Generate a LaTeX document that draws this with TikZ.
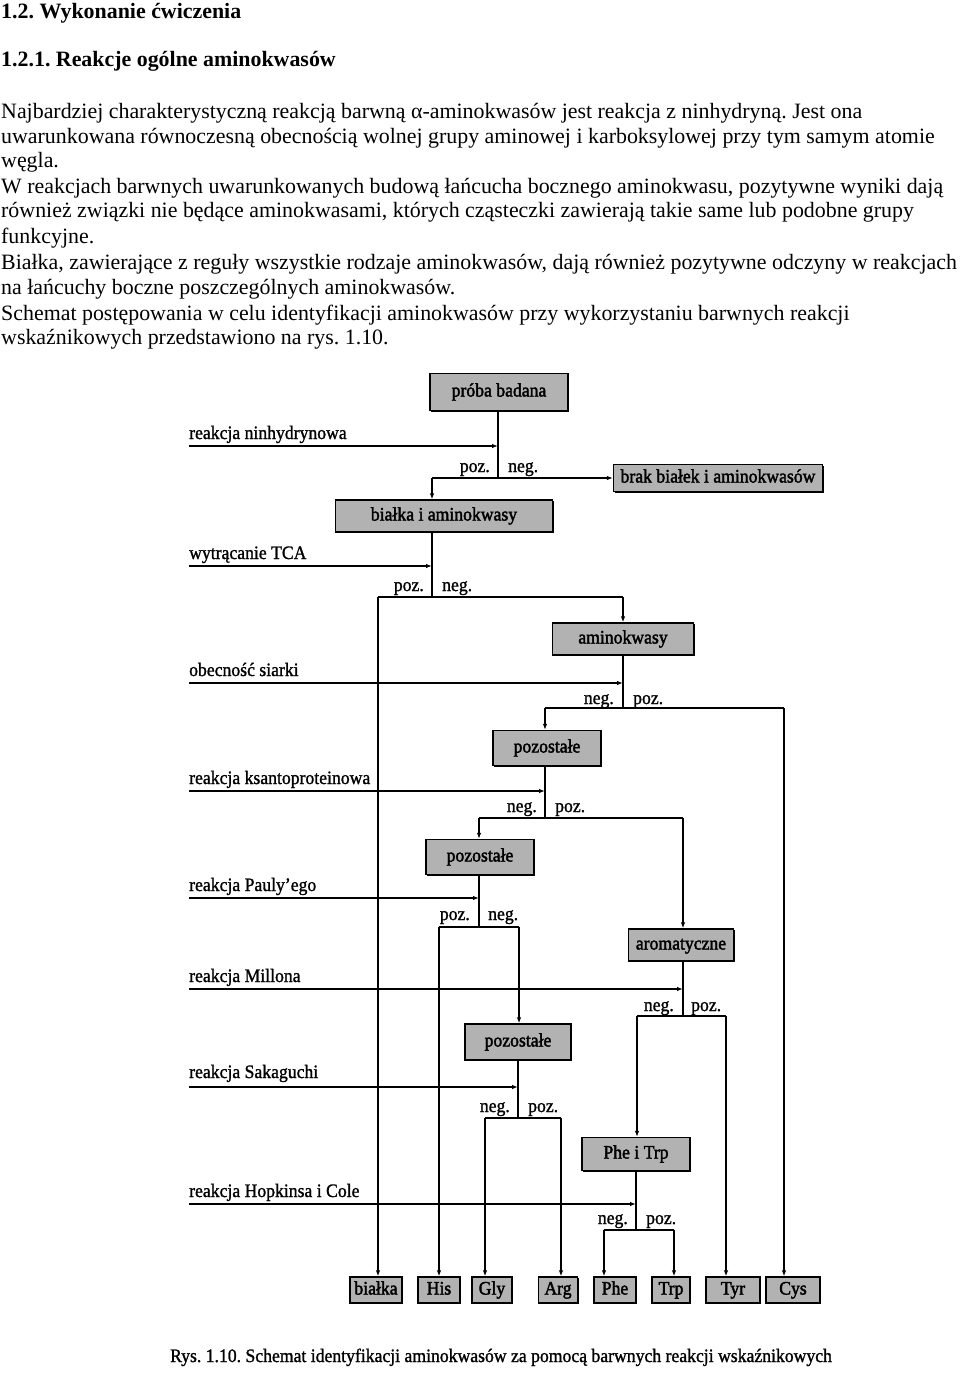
\documentclass[tikz,border=0pt]{standalone}
\usepackage{fontspec}
\setmainfont{Liberation Serif}
\newfontfamily\diafont[FakeStretch=0.93,FakeBold=1.2]{Liberation Serif}
\newfontfamily\boxfont[FakeStretch=0.93,FakeBold=2]{Liberation Serif}
\usetikzlibrary{arrows.meta,shadows}
\frenchspacing
\begin{document}
\begin{tikzpicture}[x=1pt,y=-1pt,
  gbox/.style={draw, line width=1.3pt, fill=black!30, inner sep=0pt,
    text height=13pt, text depth=4pt,
    drop shadow={shadow xshift=1.4pt, shadow yshift=-1.4pt, fill=black, opacity=1},
    font=\boxfont\fontsize{19}{22}\selectfont},
  lbl/.style={inner sep=0pt, font=\diafont\fontsize{19}{22}\selectfont},
  ln/.style={line width=1.3pt},
  arr/.style={line width=1.3pt, -{Latex[length=6pt,width=4.5pt]}},
  body/.style={anchor=base west, inner sep=0pt, font=\fontsize{21.9}{25}\selectfont},
  head/.style={anchor=base west, inner sep=0pt, font=\bfseries\fontsize{21.9}{25}\selectfont}
]
\useasboundingbox (0,0) rectangle (960,1384);
% header text
\node[head] (h1) at (1,18) {1.2. Wykonanie ćwiczenia};
\node[head] (h2) at (1,66) {1.2.1. Reakcje ogólne aminokwasów};
\node[body] (b1) at (1,118) {Najbardziej charakterystyczną reakcją barwną α-aminokwasów jest reakcja z ninhydryną. Jest ona};
\node[body] (b2) at (1,143) {uwarunkowana równoczesną obecnością wolnej grupy aminowej i karboksylowej przy tym samym atomie};
\node[body] (b3) at (1,167) {węgla.};
\node[body] (b4) at (1,193) {W reakcjach barwnych uwarunkowanych budową łańcucha bocznego aminokwasu, pozytywne wyniki dają};
\node[body] (b5) at (1,217) {również związki nie będące aminokwasami, których cząsteczki zawierają takie same lub podobne grupy};
\node[body] (b6) at (1,243) {funkcyjne.};
\node[body] (b7) at (1,269) {Białka, zawierające z reguły wszystkie rodzaje aminokwasów, dają również pozytywne odczyny w reakcjach};
\node[body] (b8) at (1,294) {na łańcuchy boczne poszczególnych aminokwasów.};
\node[body] (b9) at (1,320) {Schemat postępowania w celu identyfikacji aminokwasów przy wykorzystaniu barwnych reakcji};
\node[body] (b10) at (1,344) {wskaźnikowych przedstawiono na rys. 1.10.};

% boxes
\node[gbox, minimum width=138pt, minimum height=37pt] (proba) at (499,392) {próba badana};
\node[gbox, minimum width=209pt, minimum height=27pt] (brak) at (718,478) {brak białek i aminokwasów};
\node[gbox, minimum width=217pt, minimum height=32pt] (bialkai) at (444,516) {białka i aminokwasy};
\node[gbox, minimum width=141pt, minimum height=32pt] (amino) at (623,639) {aminokwasy};
\node[gbox, minimum width=108pt, minimum height=35pt] (poz1) at (547,748) {pozostałe};
\node[gbox, minimum width=108pt, minimum height=35pt] (poz2) at (480,857) {pozostałe};
\node[gbox, minimum width=105pt, minimum height=32pt] (arom) at (681,945) {aromatyczne};
\node[gbox, minimum width=106pt, minimum height=36pt] (poz3) at (518,1042) {pozostałe};
\node[gbox, minimum width=108pt, minimum height=33pt] (phetrp) at (636,1154) {Phe i Trp};
\node[gbox, minimum width=52pt, minimum height=26pt] (bia) at (376,1290) {białka};
\node[gbox, minimum width=42pt, minimum height=26pt] (his) at (439,1290) {His};
\node[gbox, minimum width=40pt, minimum height=26pt] (gly) at (492,1290) {Gly};
\node[gbox, minimum width=39pt, minimum height=26pt] (arg) at (558,1290) {Arg};
\node[gbox, minimum width=42pt, minimum height=26pt] (phe) at (615,1290) {Phe};
\node[gbox, minimum width=38pt, minimum height=26pt] (trp) at (671,1290) {Trp};
\node[gbox, minimum width=54pt, minimum height=26pt] (tyr) at (733,1290) {Tyr};
\node[gbox, minimum width=54pt, minimum height=26pt] (cys) at (793,1290) {Cys};

% decision 1: ninhydryn
\coordinate (j1) at (498,478);
\coordinate (l1) at (432,478);
\coordinate (r1) at (189,446);
\node[lbl, anchor=base west] (t1) at (189,439) {reakcja ninhydrynowa};
\node[lbl, anchor=base east] (p1) at (490,472) {poz.};
\node[lbl, anchor=base west] (n1) at (508,472) {neg.};
\draw[ln] (j1 |- proba.south) -- (j1);
\draw[arr] (r1) -- (r1 -| j1);
\draw[ln] (l1) -- (j1);
\draw[arr] (j1) -- (brak.west);
\draw[arr] (l1) -- (l1 |- bialkai.north);

% decision 2: TCA
\coordinate (j2) at (432,597);
\coordinate (l2) at (378,597);
\coordinate (m2) at (623,597);
\coordinate (r2) at (189,566);
\node[lbl, anchor=base west] (t2) at (189,559) {wytrącanie TCA};
\node[lbl, anchor=base east] (p2) at (424,591) {poz.};
\node[lbl, anchor=base west] (n2) at (442,591) {neg.};
\draw[ln] (j2 |- bialkai.south) -- (j2);
\draw[arr] (r2) -- (r2 -| j2);
\draw[ln] (l2) -- (m2);
\draw[arr] (l2) -- (l2 |- bia.north);
\draw[arr] (m2) -- (m2 |- amino.north);

% decision 3: siarka
\coordinate (j3) at (623,708);
\coordinate (l3) at (545,708);
\coordinate (m3) at (784,708);
\coordinate (r3) at (189,683);
\node[lbl, anchor=base west] (t3) at (189,676) {obecność siarki};
\node[lbl, anchor=base east] (p3) at (614,704) {neg.};
\node[lbl, anchor=base west] (n3) at (633,704) {poz.};
\draw[ln] (j3 |- amino.south) -- (j3);
\draw[arr] (r3) -- (r3 -| j3);
\draw[ln] (l3) -- (m3);
\draw[arr] (l3) -- (l3 |- poz1.north);
\draw[arr] (m3) -- (m3 |- cys.north);

% decision 4: ksantoproteinowa
\coordinate (j4) at (545,818);
\coordinate (l4) at (479,818);
\coordinate (m4) at (683,818);
\coordinate (r4) at (189,791);
\node[lbl, anchor=base west] (t4) at (189,784) {reakcja ksantoproteinowa};
\node[lbl, anchor=base east] (p4) at (537,812) {neg.};
\node[lbl, anchor=base west] (n4) at (555,812) {poz.};
\draw[ln] (j4 |- poz1.south) -- (j4);
\draw[arr] (r4) -- (r4 -| j4);
\draw[ln] (l4) -- (m4);
\draw[arr] (l4) -- (l4 |- poz2.north);
\draw[arr] (m4) -- (m4 |- arom.north);

% decision 5: Pauly
\coordinate (j5) at (479,927);
\coordinate (l5) at (439,927);
\coordinate (m5) at (519,927);
\coordinate (r5) at (189,898);
\node[lbl, anchor=base west] (t5) at (189,891) {reakcja Pauly’ego};
\node[lbl, anchor=base east] (p5) at (470,920) {poz.};
\node[lbl, anchor=base west] (n5) at (488,920) {neg.};
\draw[ln] (j5 |- poz2.south) -- (j5);
\draw[arr] (r5) -- (r5 -| j5);
\draw[ln] (l5) -- (m5);
\draw[arr] (l5) -- (l5 |- his.north);
\draw[arr] (m5) -- (m5 |- poz3.north);

% decision 6: Millon
\coordinate (j6) at (683,1016);
\coordinate (l6) at (637,1016);
\coordinate (m6) at (726,1016);
\coordinate (r6) at (189,989);
\node[lbl, anchor=base west] (t6) at (189,982) {reakcja Millona};
\node[lbl, anchor=base east] (p6) at (674,1011) {neg.};
\node[lbl, anchor=base west] (n6) at (691,1011) {poz.};
\draw[ln] (j6 |- arom.south) -- (j6);
\draw[arr] (r6) -- (r6 -| j6);
\draw[ln] (l6) -- (m6);
\draw[arr] (l6) -- (l6 |- phetrp.north);
\draw[arr] (m6) -- (m6 |- tyr.north);

% decision 7: Sakaguchi
\coordinate (j7) at (518,1118);
\coordinate (l7) at (485,1118);
\coordinate (m7) at (561,1118);
\coordinate (r7) at (189,1087);
\node[lbl, anchor=base west] (t7) at (189,1078) {reakcja Sakaguchi};
\node[lbl, anchor=base east] (p7) at (510,1112) {neg.};
\node[lbl, anchor=base west] (n7) at (528,1112) {poz.};
\draw[ln] (j7 |- poz3.south) -- (j7);
\draw[arr] (r7) -- (r7 -| j7);
\draw[ln] (l7) -- (m7);
\draw[arr] (l7) -- (l7 |- gly.north);
\draw[arr] (m7) -- (m7 |- arg.north);

% decision 8: Hopkins-Cole
\coordinate (j8) at (636,1230);
\coordinate (l8) at (604,1230);
\coordinate (m8) at (674,1230);
\coordinate (r8) at (189,1204);
\node[lbl, anchor=base west] (t8) at (189,1197) {reakcja Hopkinsa i Cole};
\node[lbl, anchor=base east] (p8) at (628,1224) {neg.};
\node[lbl, anchor=base west] (n8) at (646,1224) {poz.};
\draw[ln] (j8 |- phetrp.south) -- (j8);
\draw[arr] (r8) -- (r8 -| j8);
\draw[ln] (l8) -- (m8);
\draw[arr] (l8) -- (l8 |- phe.north);
\draw[arr] (m8) -- (m8 |- trp.north);

% caption
\node[lbl, anchor=base] (cap) at (501,1362) {Rys. 1.10. Schemat identyfikacji aminokwasów za pomocą barwnych reakcji wskaźnikowych};
\end{tikzpicture}
\end{document}
